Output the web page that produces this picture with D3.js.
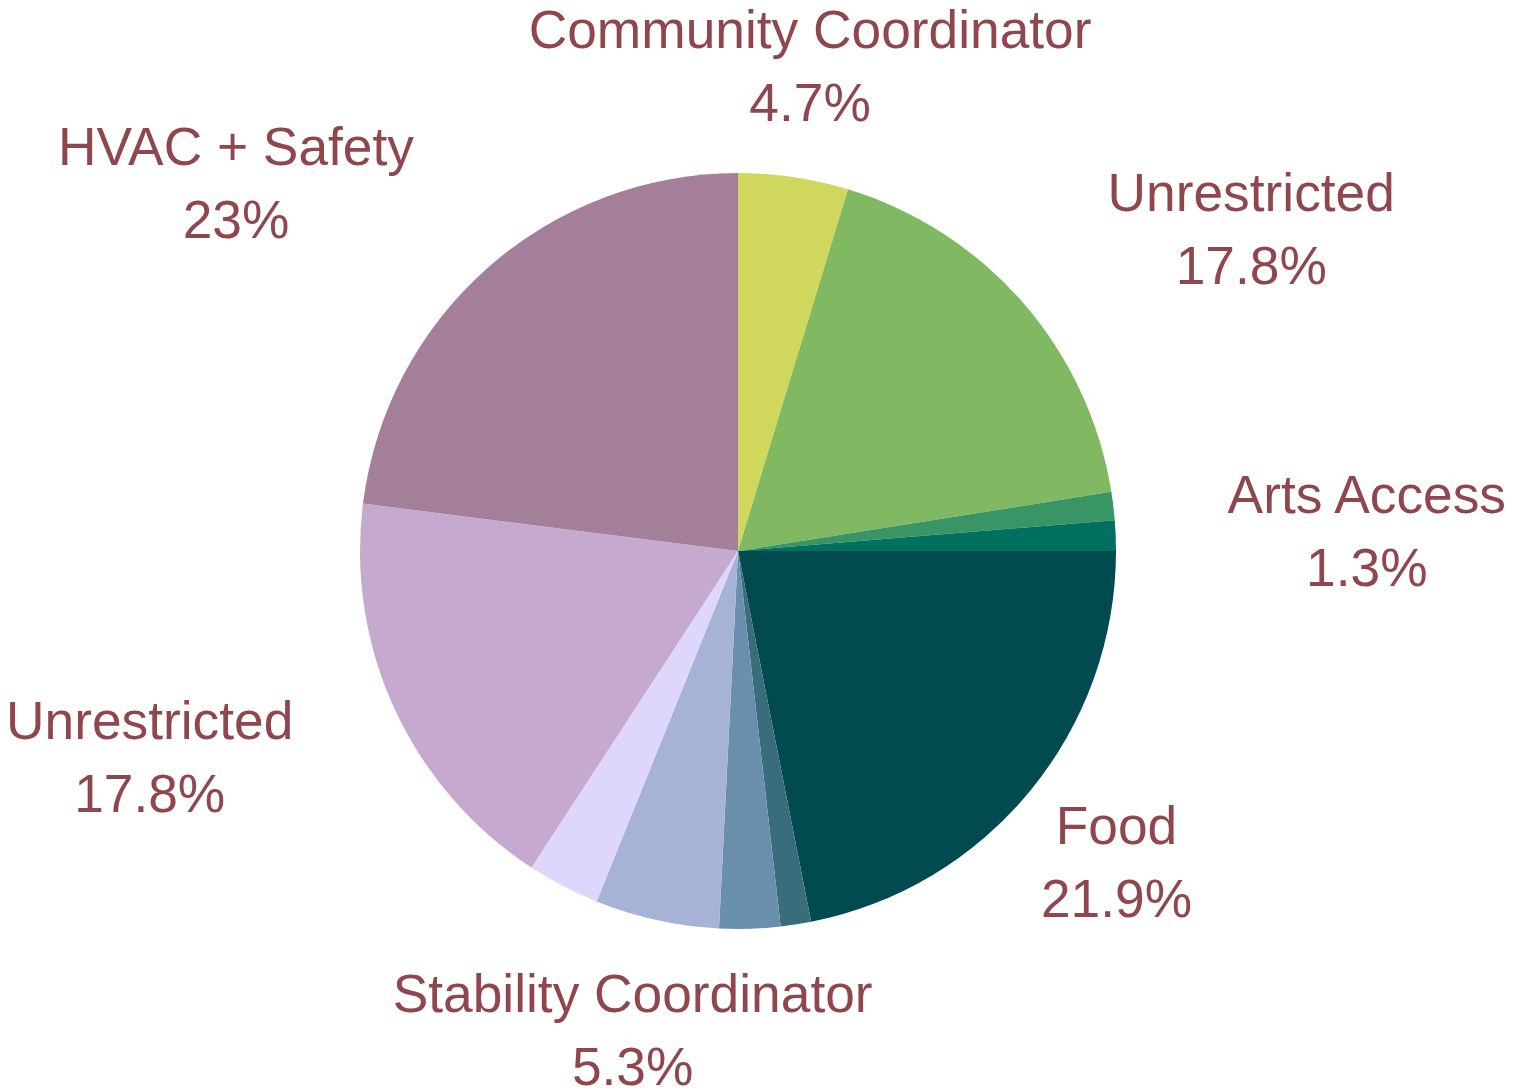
<!DOCTYPE html>
<html><head><meta charset="utf-8">
<script src="https://cdn.jsdelivr.net/npm/d3@7"></script>
<style>html,body{margin:0;padding:0;background:#fff;}svg{display:block;}</style>
</head><body>
<svg id="chart" width="1524" height="1090"></svg>
<script>
const categories = ["Community Coordinator","Unrestricted","","Arts Access","Food","","","Stability Coordinator","","Unrestricted","HVAC + Safety"];
const values = [4.7,17.8,1.2,1.3,21.9,1.3,2.6,5.3,3.1,17.8,23.0];
const showLabel = [true,true,false,true,true,false,false,true,false,true,true];
const colors = ["#cfd85c","#80b962","#3a9566","#02705f","#014a50","#386d7c","#6a8fad","#a6b3d7","#dfd6fb","#c5a9ce","#a47f99"];

const svg = d3.select("#chart");
const cx = 738, cy = 551, R = 378, labelR = 490;
const g = svg.append("g").attr("transform", `translate(${cx},${cy})`);
const data = categories.map((c,i)=>({name:c, value:values[i], show:showLabel[i], color:colors[i]}));
const pie = d3.pie().value(d=>d.value).sort(null);
const arcs = pie(data);
const arc = d3.arc().innerRadius(0).outerRadius(R);
g.selectAll("path").data(arcs).enter().append("path")
  .attr("d", arc).attr("fill", d=>d.data.color);

const fmt = v => (Math.round(v*10)/10).toString() + "%";
const lab = g.selectAll("g.lab").data(arcs.filter(d=>d.data.show)).enter().append("g").attr("class","lab");
lab.each(function(d){
  const a = (d.startAngle + d.endAngle)/2;
  const x = labelR*Math.sin(a), y = -labelR*Math.cos(a);
  const deg = a*180/Math.PI;
  const t = d3.select(this).append("text")
    .attr("text-anchor", "middle")
    .attr("font-family","'Liberation Sans', Arial, sans-serif")
    .attr("font-size", 53.3).attr("fill","#8f464d");
  const s1 = t.append("tspan").attr("y", y - 18).text(d.data.name);
  const s2 = t.append("tspan").attr("y", y + 55).text(fmt(d.data.value));
  const w = Math.max(s1.node().getComputedTextLength(), s2.node().getComputedTextLength());
  let mid = x;
  if (deg >= 20 && deg <= 120) mid = x + w/2;
  else if (deg >= 240 && deg <= 340) mid = x - w/2;
  s1.attr("x", mid); s2.attr("x", mid);
});
</script>
</body></html>
